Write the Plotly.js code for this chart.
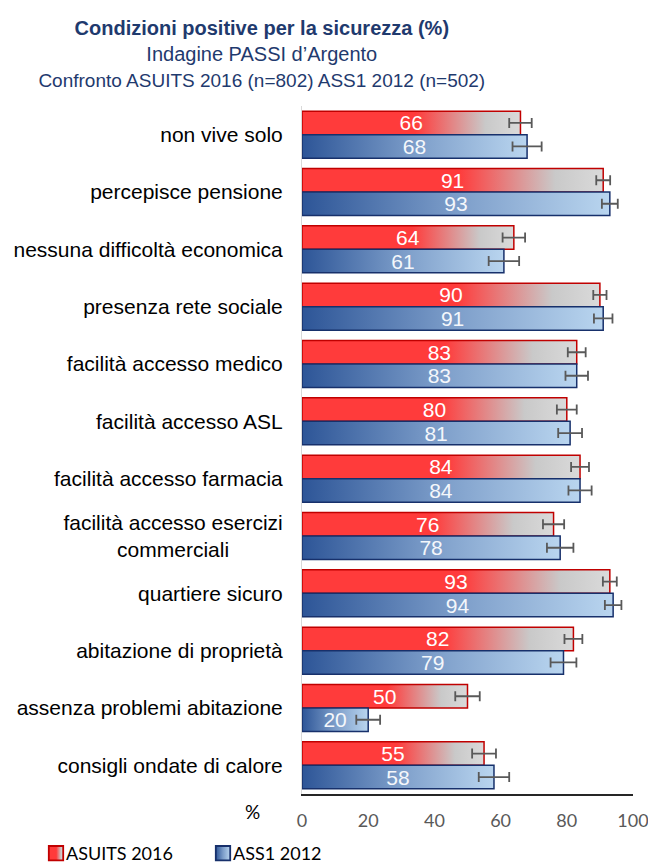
<!DOCTYPE html>
<html>
<head>
<meta charset="utf-8">
<script src="https://cdn.plot.ly/plotly-3.0.1.min.js"></script>
<style>
html,body{margin:0;padding:0;background:#fff;}
#chart{width:648px;height:864px;}
</style>
</head>
<body>
<div id="chart"></div>
<script>
// ---- data ----
var categories = [
  "non vive solo",
  "percepisce pensione",
  "nessuna difficoltà economica",
  "presenza rete sociale",
  "facilità accesso medico",
  "facilità accesso ASL",
  "facilità accesso farmacia",
  "facilità accesso esercizi<br>commerciali",
  "quartiere sicuro",
  "abitazione di proprietà",
  "assenza problemi abitazione",
  "consigli ondate di calore"
];
var seriesNames = ["ASUITS 2016", "ASS1 2012"];
var asuits2016 = [66, 91, 64, 90, 83, 80, 84, 76, 93, 82, 50, 55];
var ass12012   = [68, 93, 61, 91, 83, 81, 84, 78, 94, 79, 20, 58];
var asuitsErr  = [3.4, 2.1, 3.4, 2.0, 2.7, 3.0, 2.7, 3.2, 2.1, 2.7, 3.7, 3.6];
var ass1Err    = [4.4, 2.4, 4.6, 2.8, 3.4, 3.6, 3.5, 4.0, 2.5, 3.9, 3.6, 4.6];
var xTicks = [0, 20, 40, 60, 80, 100];

var traces = [
  {
    type: "bar", orientation: "h", name: seriesNames[0],
    y: categories, x: asuits2016,
    marker: {color: "#FF3B3B", line: {color: "#C00000", width: 1.5}},
    error_x: {type: "data", array: asuitsErr, visible: true, color: "#595959", thickness: 1.8, width: 5},
    text: asuits2016.map(String), textposition: "inside", insidetextanchor: "middle",
    constraintext: "none", cliponaxis: false,
    textfont: {color: "#FFFFFF", size: 21, family: "Liberation Sans, Arial, sans-serif"},
    hoverinfo: "x+y"
  },
  {
    type: "bar", orientation: "h", name: seriesNames[1],
    y: categories, x: ass12012,
    marker: {color: "#5B7FBA", line: {color: "#17306B", width: 1.5}},
    error_x: {type: "data", array: ass1Err, visible: true, color: "#595959", thickness: 1.8, width: 5},
    text: ass12012.map(String), textposition: "inside", insidetextanchor: "middle",
    constraintext: "none", cliponaxis: false,
    textfont: {color: "#F4F7FB", size: 21, family: "Liberation Sans, Arial, sans-serif"},
    hoverinfo: "x+y"
  }
];

var layout = {
  width: 648, height: 864,
  margin: {l: 302, r: 15, t: 106, b: 70, autoexpand: false},
  paper_bgcolor: "#FFFFFF", plot_bgcolor: "#FFFFFF",
  font: {family: "Liberation Sans, Arial, sans-serif", color: "#000000"},
  barmode: "group", bargap: 0.18, bargroupgap: 0,
  showlegend: true,
  legend: {
    orientation: "h", xref: "container", yref: "container",
    x: 26 / 648, y: 0, xanchor: "left", yanchor: "bottom",
    font: {family: "Lato, Carlito, sans-serif", size: 18, color: "#000000"},
    itemwidth: 30, entrywidth: 122, traceorder: "normal"
  },
  title: {
    text: "<b>Condizioni positive per la sicurezza (%)</b><br>Indagine PASSI d’Argento<br><span style='font-size:19px'>Confronto ASUITS 2016 (n=802) ASS1 2012 (n=502)</span>",
    font: {family: "Liberation Sans, Arial, sans-serif", size: 20, color: "#1F3A6E"},
    xref: "container", yref: "container",
    x: 0.404, xanchor: "center", y: 0.96, yanchor: "top"
  },
  xaxis: {
    range: [0, 100], tickvals: xTicks, ticktext: xTicks.map(String),
    showgrid: false, zeroline: false,
    showline: true, linecolor: "#262626", linewidth: 2,
    ticks: "", ticklabelstandoff: 9, ticklabeloverflow: "allow",
    tickfont: {family: "Lato, Carlito, sans-serif", size: 18, color: "#595959"}
  },
  yaxis: {
    autorange: "reversed", showgrid: false, zeroline: false,
    showline: true, linecolor: "#D9D9D9", linewidth: 1,
    ticks: "", ticklabelstandoff: 14,
    tickfont: {family: "Liberation Sans, Arial, sans-serif", size: 21, color: "#000000"}
  },
  annotations: [
    {text: "%", xref: "paper", yref: "paper", x: -0.15, y: -0.026, xanchor: "center", yanchor: "middle",
     showarrow: false, font: {family: "Lato, Carlito, sans-serif", size: 19, color: "#000000"}}
  ]
};

function postStyle(gd) {
  var svg = gd.querySelector("svg.main-svg");
  var ns = "http://www.w3.org/2000/svg";
  var defs = svg.querySelector("defs") || svg.insertBefore(document.createElementNS(ns, "defs"), svg.firstChild);
  function grad(id, stops) {
    var lg = document.createElementNS(ns, "linearGradient");
    lg.setAttribute("id", id);
    lg.setAttribute("x1", "0"); lg.setAttribute("y1", "0");
    lg.setAttribute("x2", "1"); lg.setAttribute("y2", "0");
    stops.forEach(function (s) {
      var st = document.createElementNS(ns, "stop");
      st.setAttribute("offset", s[0]);
      st.setAttribute("stop-color", s[1]);
      lg.appendChild(st);
    });
    defs.appendChild(lg);
  }
  grad("gRed", [["0", "#FF3B3B"], ["0.52", "#FF3B3B"], ["0.84", "#C9C9C9"], ["1", "#DADADA"]]);
  grad("gBlue", [["0", "#2D5597"], ["0.5", "#7C9DC9"], ["1", "#B9D5EF"]]);
  var ids = ["gRed", "gBlue"];
  gd.querySelectorAll(".barlayer .trace.bars").forEach(function (t, i) {
    t.querySelectorAll(".point path").forEach(function (p) { p.style.fill = "url(#" + ids[i] + ")"; });
  });
  gd.querySelectorAll(".legend .traces").forEach(function (t, i) {
    t.querySelectorAll(".legendpoints path").forEach(function (p) {
      p.style.fill = "url(#" + ids[i] + ")";
      p.setAttribute("transform", "translate(30,0) scale(1.2)");
    });
  });
  // shift legend down a little (reference legend sits at the very bottom)
  var leg = gd.querySelector("g.legend");
  if (leg) {
    var tr = leg.getAttribute("transform") || "";
    var m = tr.match(/translate\(([-\d.]+)[ ,]+([-\d.]+)\)/);
    if (m) leg.setAttribute("transform", "translate(" + m[1] + "," + (parseFloat(m[2]) + 8) + ")");
  }
  // centre the lines of multi-line category labels, as in the reference
  gd.querySelectorAll(".yaxislayer-above .ytick text").forEach(function (t) {
    var lines = t.querySelectorAll("tspan.line");
    if (lines.length > 1) {
      var w = t.getBBox().width;
      var x0 = parseFloat(t.getAttribute("x"));
      var xc = x0 - w / 2;
      t.setAttribute("text-anchor", "middle");
      t.setAttribute("x", xc);
      lines.forEach(function (l) { l.setAttribute("x", xc); });
    }
  });
}

Plotly.newPlot("chart", traces, layout, {displayModeBar: false, staticPlot: true}).then(postStyle);
</script>
</body>
</html>
